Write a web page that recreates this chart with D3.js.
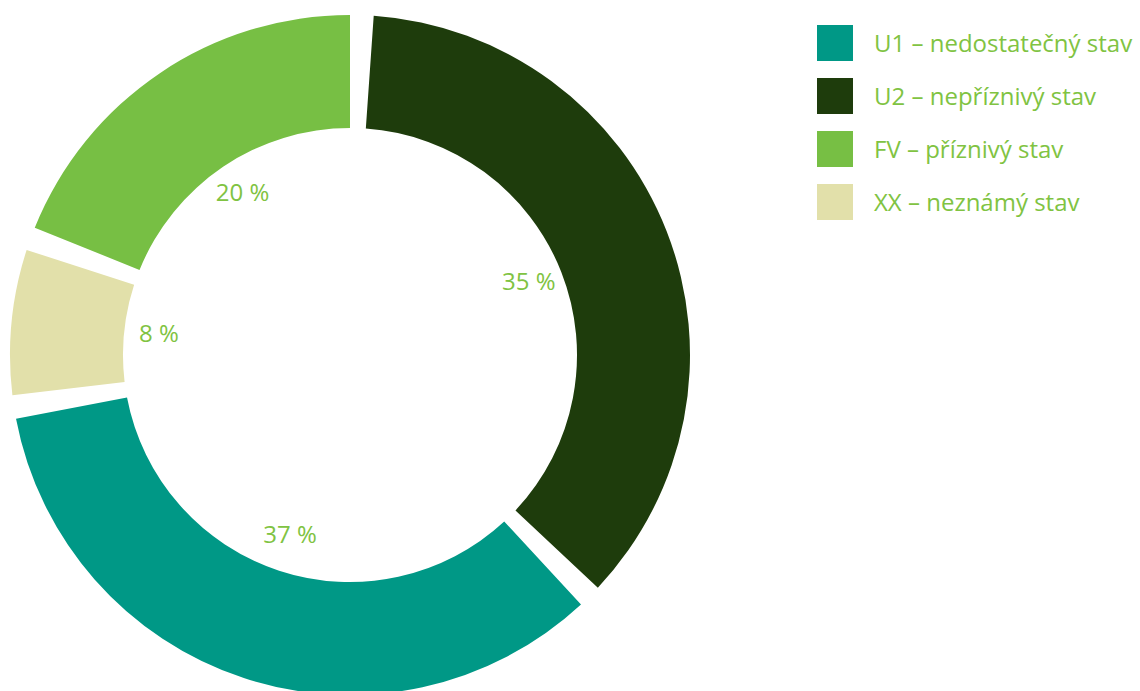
<!DOCTYPE html>
<html>
<head>
<meta charset="utf-8">
<script src="https://cdn.jsdelivr.net/npm/d3@7"></script>
<style>
  body { margin: 0; background: #fff; }
  svg text { font-family: "Open Sans", "Noto Sans", sans-serif; }
</style>
</head>
<body>
<div id="chart"></div>
<script>
// slices in drawing order, clockwise from the top
var categories = ["U2", "U1", "XX", "FV"];
var values = [37, 35, 8, 20];
var sliceLabels = ["35 %", "37 %", "8 %", "20 %"];

// legend order
var legendKeys = ["U1", "U2", "FV", "XX"];
var legendNames = ["U1 – nedostatečný stav", "U2 – nepříznivý stav", "FV – příznivý stav", "XX – neznámý stav"];

var colors = {
    U1: "#009886",
    U2: "#1e3c0c",
    FV: "#77bf44",
    XX: "#e2e0aa"
};
var textColor = "#80c342";

var width = 1140, height = 691;
var cx = 350, cy = 355;
var outerR = 340, innerR = 227;
var pad = 4 * Math.PI / 180;

var svg = d3.select("#chart").append("svg")
    .attr("width", width)
    .attr("height", height);

var pie = d3.pie()
    .sort(null)
    .startAngle(pad / 2)
    .endAngle(2 * Math.PI + pad / 2)
    .value(function (d) { return d; });

var arcs = pie(values);

// angular gap between slices (wedge shaped, not constant width)
var arc = d3.arc()
    .innerRadius(innerR)
    .outerRadius(outerR)
    .startAngle(function (d) { return d.startAngle + pad / 2; })
    .endAngle(function (d) { return d.endAngle - pad / 2; });

var labelArc = d3.arc().innerRadius(192).outerRadius(192);

var g = svg.append("g").attr("transform", "translate(" + cx + "," + cy + ")");

g.selectAll("path")
    .data(arcs)
    .enter()
    .append("path")
    .attr("d", arc)
    .style("fill", function (d, i) { return colors[categories[i]]; });

g.selectAll("text")
    .data(arcs)
    .enter()
    .append("text")
    .attr("transform", function (d) { return "translate(" + labelArc.centroid(d) + ")"; })
    .attr("text-anchor", "middle")
    .attr("dy", "0.22em")
    .style("font-size", "24px")
    .style("fill", textColor)
    .text(function (d, i) { return sliceLabels[i]; });

// legend
var legend = svg.append("g").attr("transform", "translate(817,25)");
var rows = legend.selectAll("g")
    .data(legendKeys)
    .enter()
    .append("g")
    .attr("transform", function (d, i) { return "translate(0," + (i * 53) + ")"; });

rows.append("rect")
    .attr("width", 36)
    .attr("height", 36)
    .style("fill", function (d) { return colors[d]; });

rows.append("text")
    .attr("x", 57)
    .attr("y", 18)
    .attr("dy", "0.38em")
    .style("font-size", "24px")
    .style("fill", textColor)
    .text(function (d, i) { return legendNames[i]; });
</script>
</body>
</html>
